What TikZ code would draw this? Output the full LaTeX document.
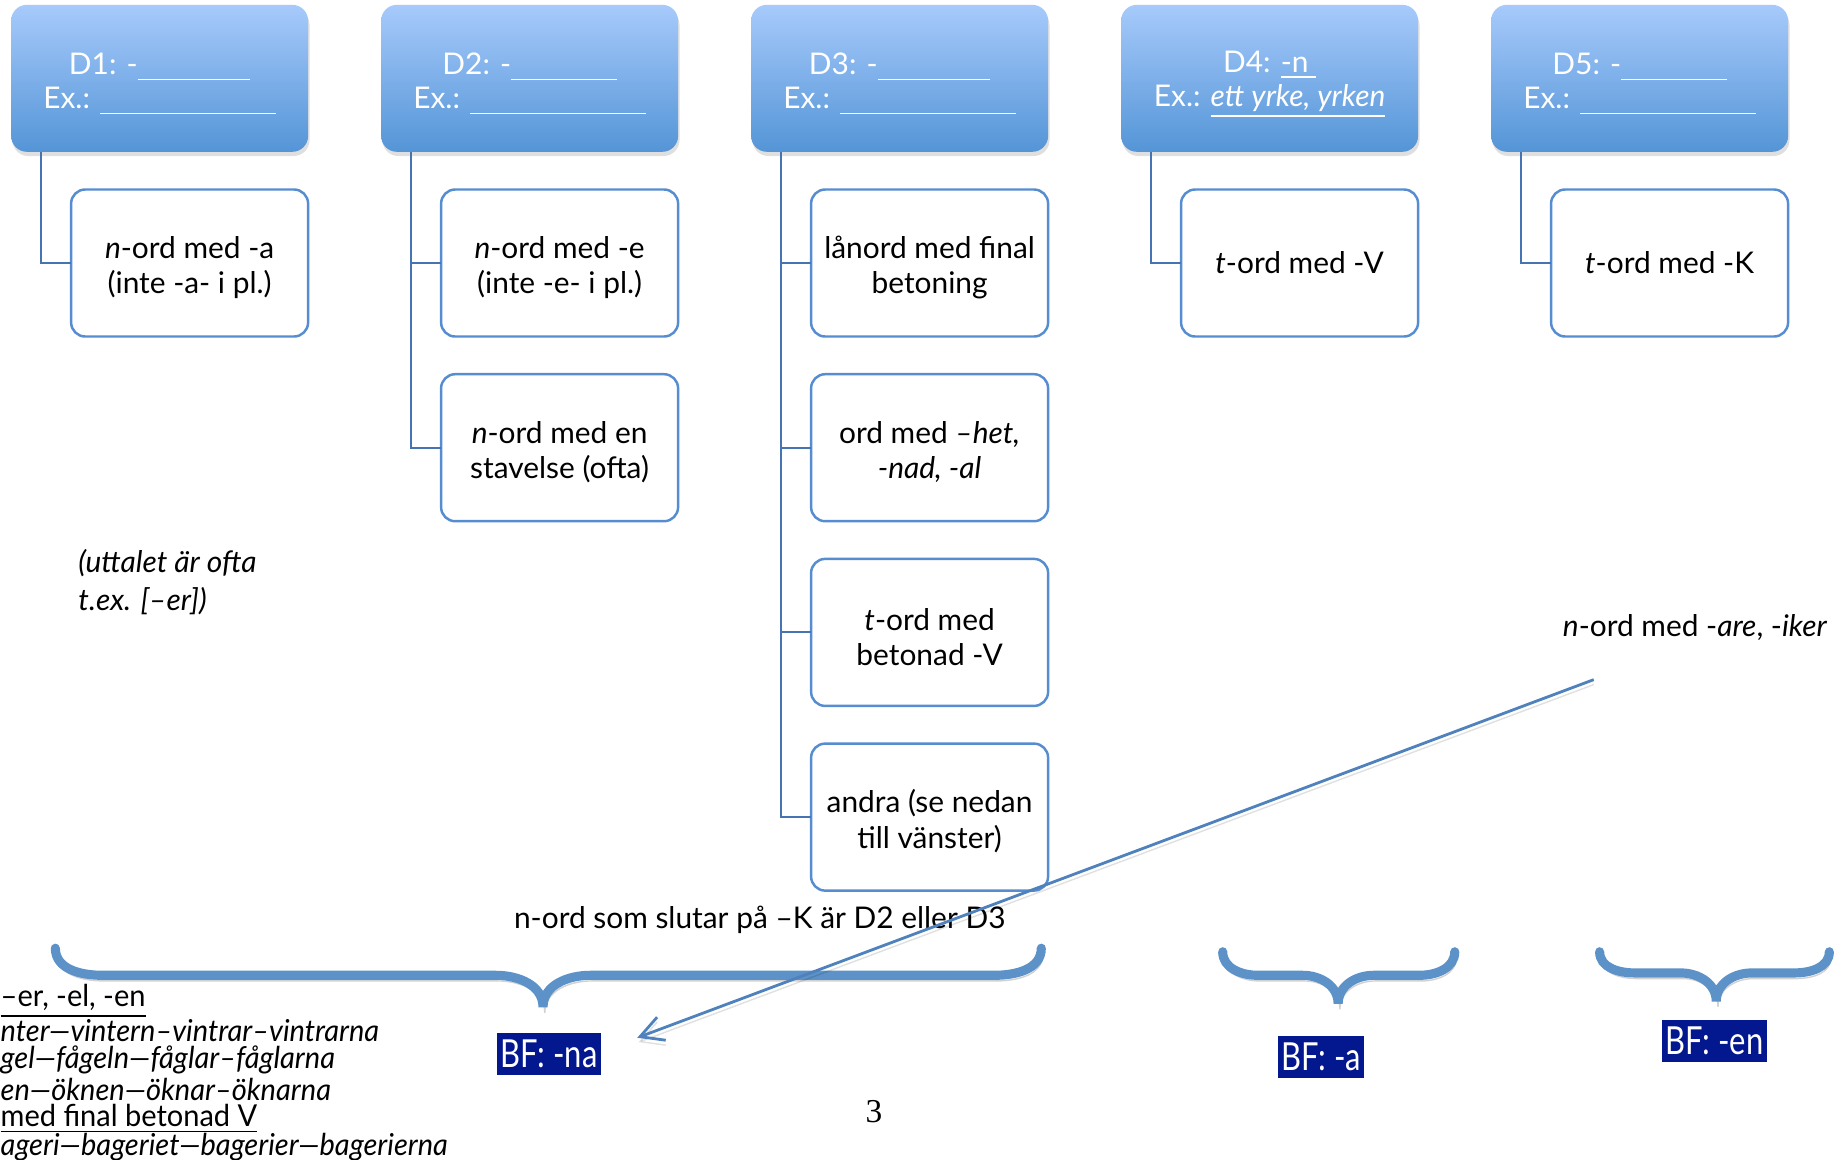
\documentclass[tikz,border=0pt]{standalone}
\usepackage{fontspec}
\setmainfont{Lato}
\newfontfamily\schmal[FakeStretch=0.96]{Lato}
\newfontfamily\bfschrift[FakeStretch=0.8]{Lato}
\newfontfamily\seitenzahl{Liberation Serif}
\usetikzlibrary{positioning,arrows.meta,shadows}

\definecolor{kopfhell}{RGB}{167,202,251}
\definecolor{kopfdunkel}{RGB}{84,149,215}
\definecolor{rahmenblau}{RGB}{86,140,208}
\definecolor{astblau}{RGB}{70,116,178}
\definecolor{klammerblau}{RGB}{92,146,200}
\definecolor{pfeilblau}{RGB}{79,129,189}
\definecolor{bfblau}{RGB}{3,23,143}

\newcommand{\kopfstrut}{\rule{0pt}{9.6pt}}	% erste Zeile etwas tiefer
\newcommand{\blattstrut}{\rule{0pt}{8.9pt}}

\tikzstyle{kopf} = [rectangle, rounded corners=4.5pt, minimum width=2.97cm, minimum height=1.47cm,
	inner sep=0pt, outer sep=0pt, top color=kopfhell, bottom color=kopfdunkel, text=white,
	align=center, font=\fontsize{8.5}{9.7}\selectfont,
	drop shadow={opacity=0.25, shadow xshift=0.4pt, shadow yshift=-1.2pt}]
\tikzstyle{blatt} = [rectangle, rounded corners=4pt, draw=rahmenblau, line width=0.7pt, fill=white,
	minimum width=2.37cm, minimum height=1.47cm, inner sep=0pt, outer sep=0pt,
	align=center, font=\fontsize{8.5}{10}\selectfont]
\tikzstyle{ast} = [draw=astblau, line width=0.6pt]
\tikzstyle{klammer} = [draw=klammerblau, line width=2.6pt, line cap=round,
	preaction={draw=black, opacity=0.18, transform canvas={xshift=0.5pt, yshift=-1.6pt}}]
\tikzstyle{pfeil} = [draw=pfeilblau, line width=0.8pt, -{Straight Barb[length=6.5pt,width=7pt]},
	preaction={draw=black, opacity=0.12, transform canvas={yshift=-1.4pt}}]
\tikzstyle{bf} = [fill=bfblau, text=white, inner xsep=1pt, inner ysep=0pt, minimum height=12pt,
	font=\bfschrift\fontsize{11}{12}\selectfont]
\tikzstyle{fliess} = [font=\fontsize{8.5}{10.7}\selectfont, align=left, inner sep=0pt]
\tikzstyle{liste} = [font=\schmal\fontsize{8.6}{9}\selectfont, anchor=west, inner sep=0pt]

\begin{document}
\begin{tikzpicture}[x=0.01178cm, y=0.01178cm]
		\useasboundingbox (0,0) rectangle (1568,-984);
		% Kopfknoten
		\node[kopf] (d1) at (135.5,-66.5) {\kopfstrut D1: -\underline{\hspace{32pt}}\\Ex.: \underline{\hspace{50pt}}};	% Deklination 1
		\node[kopf, right=0.73cm of d1] (d2) {\kopfstrut D2: -\underline{\hspace{30pt}}\\Ex.: \underline{\hspace{50pt}}};	% Deklination 2
		\node[kopf, right=0.73cm of d2] (d3) {\kopfstrut D3: -\underline{\hspace{32pt}}\\Ex.: \underline{\hspace{50pt}}};	% Deklination 3
		\node[kopf, right=0.73cm of d3] (d4) {\kopfstrut D4: \underline{-n\ }\\Ex.: \underline{\textit{ett yrke, yrken}}};	% Deklination 4
		\node[kopf, right=0.73cm of d4] (d5) {\kopfstrut D5: -\underline{\hspace{30pt}}\\Ex.: \underline{\hspace{50pt}}};	% Deklination 5
		
		% Unterknoten
		\node[blatt, below=0.377cm of d1.south east, anchor=north east] (d1a) {\blattstrut\textit{n}-ord med -a\\(inte -a- i pl.)};
		\node[blatt, below=0.377cm of d2.south east, anchor=north east] (d2a) {\blattstrut\textit{n}-ord med -e\\(inte -e- i pl.)};
		\node[blatt, below=0.377cm of d2a] (d2b) {\blattstrut\textit{n}-ord med en\\stavelse (ofta)};
		\node[blatt, below=0.377cm of d3.south east, anchor=north east] (d3a) {\blattstrut lånord med final\\betoning};
		\node[blatt, below=0.377cm of d3a] (d3b) {\blattstrut ord med \textit{–het,}\\\textit{-nad, -al}};
		\node[blatt, below=0.377cm of d3b] (d3c) {\blattstrut\textit{t}-ord med\\betonad -V};
		\node[blatt, below=0.377cm of d3c] (d3d) {\blattstrut andra (se nedan\\till vänster)};
		\node[blatt, below=0.377cm of d4.south east, anchor=north east] (d4a) {\textit{t}-ord med -V};
		\node[blatt, below=0.377cm of d5.south east, anchor=north east] (d5a) {\textit{t}-ord med -K};
		
		% freie Texte
		\node[fliess, anchor=west] (uttal) at (66,-494) {\textit{(uttalet är ofta}\\\textit{t.ex. [–er])}};
		\node[fliess] (are) at (1439,-533) {\textit{n}-ord med -\textit{are}, -\textit{iker}};
		\node[fliess] (kregel) at (645,-781) {n-ord som slutar på –K är D2 eller D3};
		\node[font=\seitenzahl\fontsize{9.5}{11}\selectfont, inner sep=0pt] (seite) at (742,-944) {3};	% Seitenzahl
		
		% BF-Kaesten
		\node[bf] (bf1) at (466,-895) {BF: -na};
		\node[bf] (bf2) at (1121.5,-897) {BF: -a};
		\node[bf] (bf3) at (1455.5,-884) {BF: -en};
		
		% Liste unten links (abgeschnitten)
		\node[liste] (l1) at (0,-850) {\underline{–er, -el, -en}};
		\node[liste] (l2) at (0,-875) {\textit{nter—vintern–vintrar–vintrarna}};
		\node[liste] (l3) at (0,-900) {\textit{gel—fågeln—fåglar–fåglarna}};
		\node[liste] (l4) at (0,-925) {\textit{en—öknen—öknar–öknarna}};
		\node[liste] (l5) at (0,-950) {\underline{med final betonad V}};
		\node[liste] (l6) at (0,-974) {\textit{ageri—bageriet—bagerier—bagerierna}};
		
		% Verbindungen
		\draw[ast] ([xshift=0.295cm]d1.south west) |- (d1a.west);
		\draw[ast] ([xshift=0.295cm]d2.south west) |- (d2a.west);
		\draw[ast] ([xshift=0.295cm]d2.south west) |- (d2b.west);
		\draw[ast] ([xshift=0.295cm]d3.south west) |- (d3a.west);
		\draw[ast] ([xshift=0.295cm]d3.south west) |- (d3b.west);
		\draw[ast] ([xshift=0.295cm]d3.south west) |- (d3c.west);
		\draw[ast] ([xshift=0.295cm]d3.south west) |- (d3d.west);
		\draw[ast] ([xshift=0.295cm]d4.south west) |- (d4a.west);
		\draw[ast] ([xshift=0.295cm]d5.south west) |- (d5a.west);
		
		% Klammern
		\draw[klammer] (47,-805) to[out=-90,in=180] (87,-828) -- (421,-828) to[out=0,in=90] (461,-855)
			to[out=90,in=180] (501,-828) -- (844,-828) to[out=0,in=-90] (884,-805);
		\draw[klammer] (1038,-808) to[out=-90,in=180] (1068,-828) -- (1106,-828) to[out=0,in=90] (1136,-852)
			to[out=90,in=180] (1166,-828) -- (1205,-828) to[out=0,in=-90] (1235,-808);
		\draw[klammer] (1358,-808) to[out=-90,in=180] (1388,-826) -- (1427,-826) to[out=0,in=90] (1457,-850)
			to[out=90,in=180] (1487,-826) -- (1523,-826) to[out=0,in=-90] (1553,-808);
		
		% Pfeil
		\coordinate (pfeil-anfang) at (1353,-577);
		\coordinate (pfeil-ende) at (541,-881);
		\draw[pfeil] (pfeil-anfang) -- (pfeil-ende);
\end{tikzpicture}
\end{document}
